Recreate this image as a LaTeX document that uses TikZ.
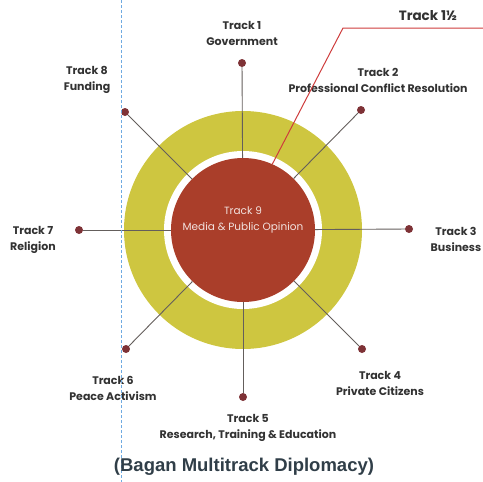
\documentclass[tikz,border=0pt]{standalone}
\usepackage{fontspec}
\setmainfont{Poppins}
\newfontfamily\titelfont{Liberation Sans}
\usetikzlibrary{positioning}

\definecolor{ringgelb}{RGB}{206,198,64}
\definecolor{kernrot}{RGB}{170,62,42}
\definecolor{punktrot}{RGB}{126,50,54}
\definecolor{speichegrau}{RGB}{100,94,92}
\definecolor{schrift}{RGB}{50,50,50}
\definecolor{linierot}{RGB}{206,60,60}
\definecolor{randblau}{RGB}{110,170,225}
\definecolor{titelgrau}{RGB}{48,62,72}

\tikzset{
  punkt/.style={circle, fill=punktrot, inner sep=0pt, minimum size=8pt},
  speiche/.style={draw=speichegrau, line width=0.9pt},
  spurtext/.style={text=schrift, align=center, inner sep=0pt,
    font=\fontsize{11}{16}\selectfont\bfseries},
}

\begin{document}
\begin{tikzpicture}[x=1pt, y=-1pt]
	\useasboundingbox (0,0) rectangle (483,482);

	% zeichne Ringe
	\fill[ringgelb] (243,230) circle (119pt);
	\fill[white] (243,230) circle (79pt);
	\node[circle, fill=kernrot, minimum size=144pt, inner sep=0pt] (mitte) at (243,230) {};
	\node[text=white!85!kernrot, align=center, inner sep=0pt,
		font=\fontsize{10.5}{16}\selectfont] (t9) at (243,220) {Track 9\\Media \& Public Opinion};

	% zeichne Punkte
	\node[punkt] (d1) at (242,63) {};
	\node[punkt] (d2) at (361,110) {};
	\node[punkt] (d3) at (409,229) {};
	\node[punkt] (d4) at (362,349) {};
	\node[punkt] (d5) at (243,397) {};
	\node[punkt] (d6) at (126,349) {};
	\node[punkt] (d7) at (79,230) {};
	\node[punkt] (d8) at (125,112) {};

	% zeichne Speichen
	\draw[speiche] (d1) -- (mitte);
	\draw[speiche] (d2) -- (mitte);
	\draw[speiche] (d3) -- (mitte);
	\draw[speiche] (d4) -- (mitte);
	\draw[speiche] (d5) -- (mitte);
	\draw[speiche] (d6) -- (mitte);
	\draw[speiche] (d7) -- (mitte);
	\draw[speiche] (d8) -- (mitte);

	% zeichne Labels
	\node[spurtext] (t1) at (242,33) {Track 1\\Government};
	\node[spurtext] (t2) at (378,80) {Track 2\\Professional Conflict Resolution};
	\node[spurtext] (t3) at (456,239) {Track 3\\Business};
	\node[spurtext] (t4) at (380,383) {Track 4\\Private Citizens};
	\node[spurtext] (t5) at (248,428) {Track 5\\Research, Training \& Education};
	\node[spurtext] (t6) at (113,388) {Track 6\\Peace Activism};
	\node[spurtext] (t7) at (33,240) {Track 7\\Religion};
	\node[spurtext] (t8) at (87,80) {Track 8\\Funding};

	% Track 1 1/2
	\coordinate (knick) at (343,28);
	\coordinate (ende) at (484,28);
	\draw[linierot, line width=1pt] (mitte.66) -- (knick) -- (ende);
	\node[text=schrift, font=\fontsize{13.5}{15}\selectfont\bfseries] (t15) at (428,16) {Track 1½};

	% Rand und Titel
	\draw[randblau, densely dashed, line width=0.6pt] (121,0) -- (121,482);
	\node[text=titelgrau, font=\titelfont\fontsize{18.5}{20}\selectfont\bfseries] (titel) at (244,467) {(Bagan Multitrack Diplomacy)};
\end{tikzpicture}
\end{document}
